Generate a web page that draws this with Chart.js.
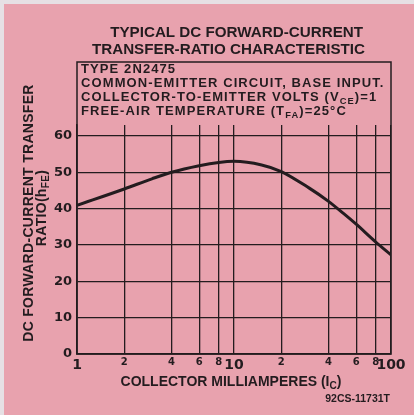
<!DOCTYPE html>
<html lang="en">
<head>
  <meta charset="UTF-8">
  <title>Typical DC Forward-Current Transfer-Ratio Characteristic</title>
  <style>
    html, body {
      margin: 0;
      padding: 0;
      background: #e6e0e4;
    }
    .chart-container {
      width: 414px;
      height: 415px;
    }
  </style>
</head>
<body>
  <div class="chart-container">
    <canvas id="hfeChart"></canvas>
  </div>

  <script src="https://cdn.jsdelivr.net/npm/chart.js"></script>
  <script>
    // values (collector mA -> hFE)
    const collectorMA = [1, 2, 3, 4, 6, 8, 10, 15, 20, 30, 40, 50, 60, 80, 100];
    const hFE = [40.9, 45.4, 48.2, 50.0, 51.8, 52.7, 53.0, 52.0, 50.2, 45.7, 42.0, 38.6, 35.7, 30.8, 27.3];

    const xTickValues = [1, 2, 4, 6, 8, 10, 20, 40, 60, 80, 100];
    const xTickLabels = ['1', '2', '4', '6', '8', '10', '2', '4', '6', '8', '100'];
    const yTickValues = [0, 10, 20, 30, 40, 50, 60];

    const titleLines = ['TYPICAL DC FORWARD-CURRENT', 'TRANSFER-RATIO CHARACTERISTIC'];
    // each line: list of [text, 'sub'?]
    const boxLines = [
      [['TYPE 2N2475']],
      [['COMMON-EMITTER CIRCUIT, BASE INPUT.']],
      [['COLLECTOR-TO-EMITTER VOLTS (V'], ['CE', 'sub'], [')=1']],
      [['FREE-AIR TEMPERATURE (T'], ['FA', 'sub'], [')=25°C']]
    ];
    const yTitleLines = [
      [['DC FORWARD-CURRENT TRANSFER']],
      [['RATIO(h'], ['FE', 'sub'], [')']]
    ];
    const xTitle = [['COLLECTOR MILLIAMPERES (I'], ['C', 'sub'], [')']];
    const drawingNo = '92CS-11731T';

    const INK = '#231c1f';
    const PINK = '#e8a2ae';
    const FONT = '"Liberation Sans", Arial, sans-serif';
    const frameTop = 62;

    function richWidth(ctx, parts, size, spacing) {
      let w = 0;
      parts.forEach(([text, kind]) => {
        ctx.font = `bold ${kind === 'sub' ? size * 0.72 : size}px ${FONT}`;
        ctx.letterSpacing = spacing + 'px';
        w += ctx.measureText(text).width;
      });
      return w;
    }

    function drawRich(ctx, parts, x, y, size, spacing) {
      ctx.textAlign = 'left';
      ctx.textBaseline = 'middle';
      parts.forEach(([text, kind]) => {
        const s = kind === 'sub' ? size * 0.72 : size;
        ctx.font = `bold ${s}px ${FONT}`;
        ctx.letterSpacing = spacing + 'px';
        ctx.fillText(text, x, kind === 'sub' ? y + size * 0.32 : y);
        x += ctx.measureText(text).width;
      });
    }

    const paperPlugin = {
      id: 'paper',
      beforeDraw(chart) {
        const ctx = chart.ctx;
        ctx.save();
        ctx.fillStyle = '#e6e0e4';
        ctx.fillRect(0, 0, chart.width, chart.height);
        ctx.fillStyle = PINK;
        ctx.fillRect(4, 4, chart.width - 4, chart.height - 4);
        ctx.restore();
      },
      afterDraw(chart) {
        const ctx = chart.ctx;
        const area = chart.chartArea;
        ctx.save();
        ctx.fillStyle = INK;
        ctx.strokeStyle = INK;

        // frame round the plot and the note box
        ctx.lineWidth = 1.5;
        ctx.strokeRect(area.left, frameTop, area.right - area.left, area.bottom - frameTop);

        // main title
        ctx.font = `bold 15.2px ${FONT}`;
        ctx.letterSpacing = '0px';
        ctx.textAlign = 'right';
        ctx.textBaseline = 'middle';
        ctx.fillText(titleLines[0], 363, 33);
        ctx.fillText(titleLines[1], 365, 50);

        // conditions text inside the frame
        boxLines.forEach((parts, i) => {
          drawRich(ctx, parts, area.left + 4, 69.5 + i * 14, 13, 1.1);
        });

        // y axis title, rotated
        const yCenters = [[29, 213], [42, 208]];
        yTitleLines.forEach((parts, i) => {
          const w = richWidth(ctx, parts, 14, 0.3);
          ctx.save();
          ctx.translate(yCenters[i][0], yCenters[i][1]);
          ctx.rotate(-Math.PI / 2);
          drawRich(ctx, parts, -w / 2, 0, 14, 0.3);
          ctx.restore();
        });

        // x axis title
        const xw = richWidth(ctx, xTitle, 14, 0);
        drawRich(ctx, xTitle, 231 - xw / 2, 382, 14, 0);

        // drawing number
        ctx.font = `bold 10.5px ${FONT}`;
        ctx.letterSpacing = '0px';
        ctx.textAlign = 'right';
        ctx.textBaseline = 'middle';
        ctx.fillText(drawingNo, 390, 399);
        ctx.restore();
      }
    };

    const ctx = document.getElementById('hfeChart').getContext('2d');
    new Chart(ctx, {
      type: 'line',
      data: {
        datasets: [{
          data: collectorMA.map((x, i) => ({ x: x, y: hFE[i] })),
          borderColor: INK,
          borderWidth: 3,
          pointRadius: 0,
          fill: false,
          cubicInterpolationMode: 'monotone'
        }]
      },
      options: {
        responsive: true,
        maintainAspectRatio: false,
        animation: false,
        layout: {
          padding: { left: 0, right: 23, top: 125, bottom: 41 }
        },
        scales: {
          x: {
            type: 'logarithmic',
            min: 1,
            max: 100,
            afterBuildTicks: scale => {
              scale.ticks = xTickValues.map(v => ({ value: v }));
            },
            afterFit: scale => { scale.height = 20; },
            grid: { color: INK, lineWidth: 1.3, drawTicks: false },
            border: { color: INK, width: 1.5 },
            ticks: {
              autoSkip: false,
              maxRotation: 0,
              padding: 2.6,
              color: INK,
              callback: (value, index) => xTickLabels[index],
              font: c => ({
                family: 'DejaVu Sans',
                weight: 'bold',
                size: [1, 10, 100].includes(c.tick && c.tick.value) ? 14 : 10
              })
            }
          },
          y: {
            min: 0,
            max: 63,
            afterBuildTicks: scale => {
              scale.ticks = yTickValues.map(v => ({ value: v }));
            },
            afterFit: scale => { scale.width = 77; },
            grid: { color: INK, lineWidth: 1.3, drawTicks: false },
            border: { color: INK, width: 1.5 },
            ticks: {
              padding: 5,
              color: INK,
              font: { family: 'DejaVu Sans', weight: 'bold', size: 13 }
            }
          }
        },
        plugins: {
          legend: { display: false },
          tooltip: { enabled: false }
        }
      },
      plugins: [paperPlugin]
    });
  </script>
</body>
</html>
